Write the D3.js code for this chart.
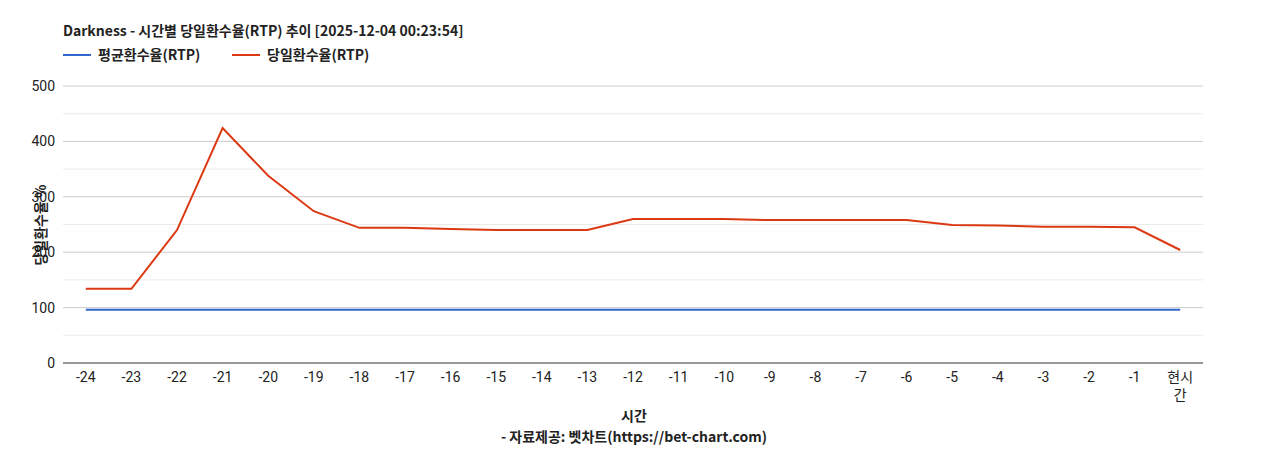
<!DOCTYPE html>
<html><head><meta charset="utf-8">
<script src="https://cdn.jsdelivr.net/npm/d3@7"></script>
<style>body{margin:0;font-family:Roboto,"Noto Sans CJK KR",sans-serif;background:#fff}</style>
</head><body>
<div id="chart"></div>
<script>
// data
var categories = ["-24","-23","-22","-21","-20","-19","-18","-17","-16","-15","-14","-13","-12","-11","-10","-9","-8","-7","-6","-5","-4","-3","-2","-1","현시간"];
var avgRtp = [96,96,96,96,96,96,96,96,96,96,96,96,96,96,96,96,96,96,96,96,96,96,96,96,96];
var dayRtp = [134,134,240,424,338,274,244,244,242,240,240,240,260,260,260,258,258,258,258,249,248,246,246,245,204];
var yTicks = [0,100,200,300,400,500];

var svgWidth = 1268, svgHeight = 450;
var margin = {top: 86, left: 63, right: 65, bottom: 87};
var width = svgWidth - margin.left - margin.right;
var height = svgHeight - margin.top - margin.bottom;
var font = "Roboto,'Noto Sans CJK KR',sans-serif";
var boldFont = "'Noto Sans CJK KR',sans-serif";

var svg = d3.select("#chart").append("svg")
  .attr("width", svgWidth).attr("height", svgHeight)
  .style("font-family", font);

var g = svg.append("g").attr("transform", `translate(${margin.left},${margin.top})`);

var x = d3.scaleBand().domain(categories).range([0, width]);
var y = d3.scaleLinear().domain([0, 500]).range([height, 0]);

// minor grid
g.selectAll(".minor").data(d3.range(50, 500, 100)).join("line")
  .attr("x1", 0).attr("x2", width)
  .attr("y1", d => y(d)).attr("y2", d => y(d))
  .attr("stroke", "#ebebeb");
// major grid
g.selectAll(".major").data(yTicks.slice(1)).join("line")
  .attr("x1", 0).attr("x2", width)
  .attr("y1", d => y(d)).attr("y2", d => y(d))
  .attr("stroke", "#cccccc");

// y labels
g.selectAll(".ylab").data(yTicks).join("text")
  .attr("x", -8).attr("y", d => y(d)).attr("dy", "0.35em")
  .attr("text-anchor", "end").attr("font-size", 14).attr("fill", "#222")
  .text(d => d);

// lines
var line = data => d3.line()
  .x((d, i) => x(categories[i]) + x.bandwidth() / 2)
  .y(d => y(d))(data);

g.append("path").attr("d", line(avgRtp)).attr("fill", "none")
  .attr("stroke", "#3366cc").attr("stroke-width", 2);
g.append("path").attr("d", line(dayRtp)).attr("fill", "none")
  .attr("stroke", "#dc3912").attr("stroke-width", 2);

// baseline
g.append("line").attr("x1", 0).attr("x2", width)
  .attr("y1", height).attr("y2", height).attr("stroke", "#333");

// x labels
var xl = g.selectAll(".xlab").data(categories).join("text")
  .attr("x", d => x(d) + x.bandwidth() / 2).attr("y", height + 19)
  .attr("text-anchor", "middle").attr("font-size", 14).attr("fill", "#222");
xl.each(function(d) {
  var t = d3.select(this);
  if (d === "현시간") {
    t.append("tspan").attr("x", x(d) + x.bandwidth() / 2).text("현시");
    t.append("tspan").attr("x", x(d) + x.bandwidth() / 2).attr("dy", 18).text("간");
  } else t.text(d);
});

// axis titles
svg.append("text").attr("x", 634).attr("y", 421).attr("text-anchor", "middle")
  .style("font-family", boldFont)
  .attr("font-size", 14).attr("font-weight", "bold").attr("fill", "#222").text("시간");
svg.append("text").attr("x", 634).attr("y", 442).attr("text-anchor", "middle")
  .style("font-family", boldFont)
  .attr("font-size", 14).attr("font-weight", "bold").attr("fill", "#222")
  .text("- 자료제공: 벳차트(https://bet-chart.com)");
svg.append("text").attr("transform", "translate(46,225) rotate(-90)")
  .style("font-family", boldFont)
  .attr("text-anchor", "middle").attr("font-size", 14).attr("font-weight", "bold")
  .attr("fill", "#222").text("당일환수율 %");

// title
svg.append("text").attr("x", 63).attr("y", 36).attr("font-size", 14)
  .style("font-family", boldFont)
  .attr("font-weight", "bold").attr("fill", "#222")
  .text("Darkness - 시간별 당일환수율(RTP) 추이 [2025-12-04 00:23:54]");

// legend
var legend = [{name: "평균환수율(RTP)", color: "#3366cc", x: 63}, {name: "당일환수율(RTP)", color: "#dc3912", x: 232}];
legend.forEach(function(l) {
  svg.append("line").attr("x1", l.x).attr("x2", l.x + 28).attr("y1", 55).attr("y2", 55)
    .attr("stroke", l.color).attr("stroke-width", 2);
  svg.append("text").attr("x", l.x + 35).attr("y", 60).attr("font-size", 14)
    .style("font-family", boldFont)
    .attr("font-weight", "bold").attr("fill", "#222").text(l.name);
});
</script>
</body></html>
